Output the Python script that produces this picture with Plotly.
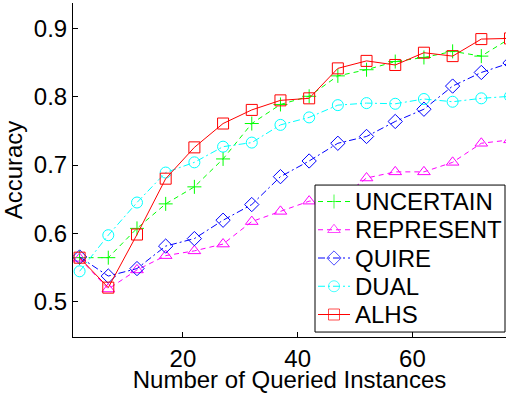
import plotly.graph_objects as go

x_vals = [2, 7, 12, 17, 22, 27, 32, 37, 42, 47, 52, 57, 62, 67, 72, 77]
uncertain = [0.564, 0.564, 0.607, 0.643, 0.668, 0.709, 0.761, 0.789, 0.801, 0.831, 0.840, 0.852, 0.858, 0.867, 0.860, 0.886]
represent = [0.563, 0.518, 0.546, 0.567, 0.574, 0.584, 0.617, 0.632, 0.647, 0.648, 0.681, 0.690, 0.690, 0.704, 0.732, 0.737]
quire = [0.565, 0.537, 0.548, 0.581, 0.592, 0.619, 0.642, 0.683, 0.706, 0.732, 0.742, 0.764, 0.782, 0.816, 0.836, 0.850]
dual = [0.544, 0.597, 0.645, 0.689, 0.704, 0.727, 0.733, 0.759, 0.770, 0.788, 0.791, 0.790, 0.797, 0.793, 0.798, 0.801]
alhs = [0.564, 0.520, 0.598, 0.680, 0.726, 0.761, 0.781, 0.795, 0.798, 0.842, 0.853, 0.847, 0.865, 0.860, 0.885, 0.886]

names = ["UNCERTAIN", "REPRESENT", "QUIRE", "DUAL", "ALHS"]
values = [uncertain, represent, quire, dual, alhs]
colors = ["#00ff00", "#ff00ff", "#0000ff", "#00ffff", "#ff0000"]
symbols = ["cross-thin-open", "triangle-up-open", "diamond-open", "circle-open", "square-open"]
dashes = ["5px,4px", "5px,4px", "7px,3px,2px,3px", "7px,3px,2px,3px", "solid"]
msizes = [10, 11, 11, 11, 11]

x_ticks = [20, 40, 60]
y_ticks = [0.5, 0.6, 0.7, 0.8, 0.9]
y_tick_labels = ["0.5", "0.6", "0.7", "0.8", "0.9"]

FONT = "Liberation Sans, Arial, sans-serif"
BLACK24 = dict(family=FONT, size=24, color="black")

fig = go.Figure()
for name, ys, color, sym, dash, size in zip(names, values, colors, symbols, dashes, msizes):
    fig.add_trace(go.Scatter(
        x=x_vals, y=ys, name=name, mode="lines+markers", showlegend=False,
        line=dict(color=color, width=1, dash=dash),
        marker=dict(symbol=sym, size=size, color=color, line=dict(color=color, width=1)),
        hoverinfo="skip",
    ))

# Legend drawn in a pixel-space overlay (x2/y2 map 1:1 to page pixels)
box_l, box_r, box_t, box_b = 315, 505, 186.7, 335
fig.add_trace(go.Scatter(
    x=[box_l, box_r, box_r, box_l, box_l], y=[box_t, box_t, box_b, box_b, box_t],
    mode="lines", fill="toself", fillcolor="white",
    line=dict(color="black", width=1), xaxis="x2", yaxis="y2",
    showlegend=False, hoverinfo="skip",
))
row0, row_step = 203.3, 28.5
for i, (name, color, sym, dash, size) in enumerate(zip(names, colors, symbols, dashes, msizes)):
    ry = row0 + i * row_step
    fig.add_trace(go.Scatter(
        x=[318, 334, 350], y=[ry, ry, ry], mode="lines+markers",
        line=dict(color=color, width=1, dash=dash),
        marker=dict(symbol=sym, size=[0, size, 0], color=color, line=dict(color=color, width=1)),
        xaxis="x2", yaxis="y2", showlegend=False, hoverinfo="skip",
    ))
    fig.add_annotation(
        x=353, y=ry, xref="x2", yref="y2", text=name, showarrow=False,
        xanchor="left", yanchor="middle", font=BLACK24,
    )

fig.update_layout(
    width=506, height=393,
    margin=dict(l=73, r=0, t=3, b=53),
    paper_bgcolor="white", plot_bgcolor="white",
    font=BLACK24,
    showlegend=False,
    xaxis=dict(
        range=[0.85, 76.3], tickvals=x_ticks, ticks="inside", ticklen=5,
        tickcolor="black", showline=True, linecolor="black", linewidth=1,
        showgrid=False, zeroline=False, mirror=False, tickfont=BLACK24,
        title=dict(text="Number of Queried Instances", standoff=4, font=BLACK24),
    ),
    yaxis=dict(
        range=[0.4475, 0.938], tickvals=y_ticks, ticktext=y_tick_labels,
        ticks="inside", ticklen=5,
        tickcolor="black", showline=True, linecolor="black", linewidth=1,
        showgrid=False, zeroline=False, mirror=False, tickfont=BLACK24,
        title=dict(text="Accuracy", standoff=6, font=BLACK24),
    ),
    xaxis2=dict(range=[73, 506], overlaying="x", visible=False, fixedrange=True),
    yaxis2=dict(range=[340, 3], overlaying="y", visible=False, fixedrange=True),
)

fig.write_html("out.html")
